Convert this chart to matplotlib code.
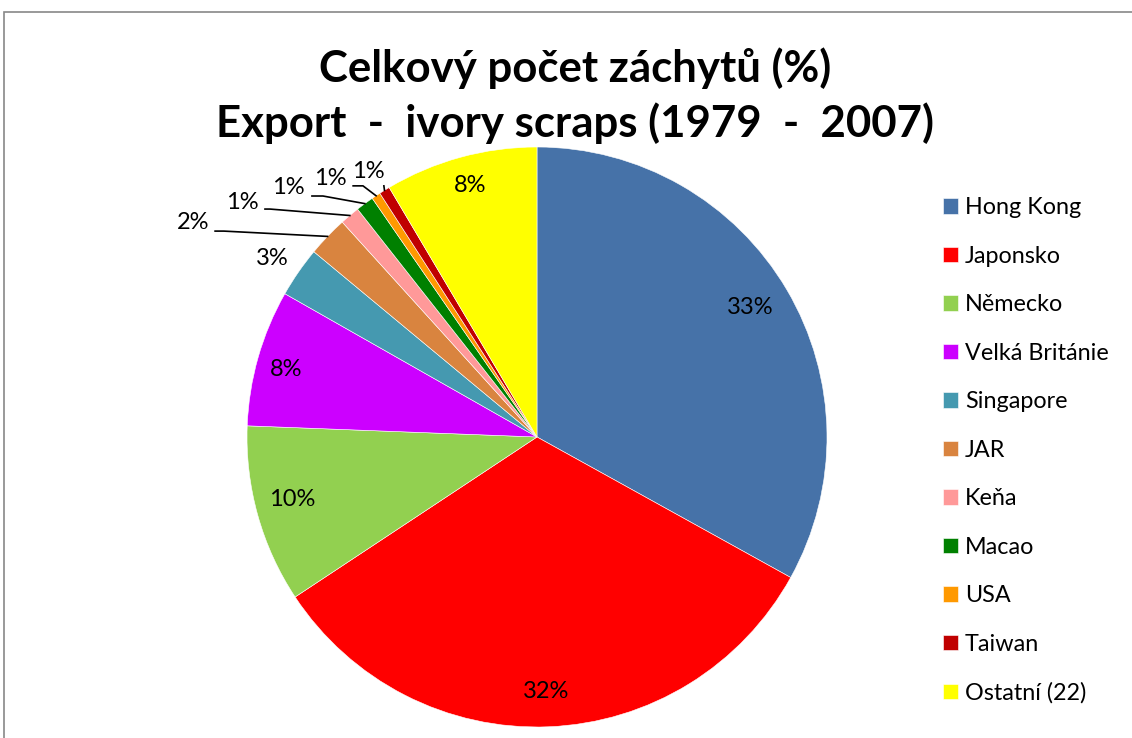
import matplotlib
matplotlib.use("Agg")
import matplotlib.pyplot as plt
import numpy as np
from matplotlib.patches import Rectangle

plt.rcParams['font.family'] = ['Lato', 'DejaVu Sans']

# data (share of seizures, %)
countries = ['Hong Kong', 'Japonsko', 'Německo', 'Velká Británie', 'Singapore',
             'JAR', 'Keňa', 'Macao', 'USA', 'Taiwan', 'Ostatní (22)']
shares = [33.0, 32.6, 9.9, 7.6, 2.8, 2.25, 1.1, 1.0, 0.5, 0.6, 8.5]
pct_labels = ['33%', '32%', '10%', '8%', '3%', '2%', '1%', '1%', '1%', '1%', '8%']
colors = ['#4672A8', '#FF0000', '#92D050', '#CC00FF', '#4599B0', '#D9843F',
          '#FF9999', '#008000', '#FF9900', '#C00000', '#FFFF00']

# label placement (data units, pie radius = 1)
label_pos = {0: (0.734, 0.448), 1: (0.031, -0.876), 2: (-0.845, -0.217),
             3: (-0.866, 0.234), 4: (-0.914, 0.617), 5: (-1.186, 0.738),
             6: (-1.017, 0.810), 7: (-0.859, 0.862), 8: (-0.714, 0.890),
             9: (-0.583, 0.914), 10: (-0.231, 0.866)}
# leader lines: start point and knee for small slices
leaders = {5: ((-1.110, 0.710), (-1.08, 0.710)),
           6: ((-0.938, 0.786), (-0.921, 0.786)),
           7: ((-0.776, 0.831), (-0.738, 0.831)),
           8: ((-0.634, 0.866), (-0.600, 0.866)),
           9: ((-0.528, 0.866), (-0.528, 0.866))}

W, H = 1132, 738
fig = plt.figure(figsize=(W / 100, H / 100), dpi=100)
fig.patch.set_facecolor('white')

# chart frame
fig.patches.append(Rectangle((4 / W, -0.1), 1.2, 1 - 12 / H + 0.1, transform=fig.transFigure,
                             fill=False, edgecolor='#888888', lw=1.2))

cx, cy, r = 537, 437, 290
ax = fig.add_axes([(cx - r) / W, (H - cy - r) / H, 2 * r / W, 2 * r / H])

wedges, _ = ax.pie(shares, colors=colors, startangle=90, counterclock=False,
                   radius=1, wedgeprops=dict(edgecolor='white', linewidth=0.4))
ax.set_xlim(-1, 1)
ax.set_ylim(-1, 1)
ax.axis('off')

frac = np.cumsum([0] + shares) / sum(shares)
for i, lab in enumerate(pct_labels):
    x, y = label_pos[i]
    ax.text(x, y, lab, ha='center', va='center', fontsize=17, color='black')
    if i in leaders:
        mid = (frac[i] + frac[i + 1]) / 2 * 2 * np.pi
        ex, ey = np.sin(mid), np.cos(mid)
        (sx, sy), (kx, ky) = leaders[i]
        ax.plot([sx, kx, ex], [sy, ky, ey], color='black', lw=1.2, clip_on=False)

fig.text(0.508, 0.908, 'Celkový počet záchytů (%)', ha='center', va='center',
         fontsize=31.5, fontweight='bold')
fig.text(0.508, 0.833, 'Export  -  ivory scraps (1979  -  2007)', ha='center', va='center',
         fontsize=31.5, fontweight='bold')

fig.legend(wedges, countries, loc='upper left', bbox_to_anchor=(943 / W, 1 - 197 / H),
           frameon=False, fontsize=16.8, handlelength=0.64, handleheight=0.64,
           handletextpad=0.3, labelspacing=1.18, borderpad=0, borderaxespad=0)

fig.savefig('out.png', dpi=100)
